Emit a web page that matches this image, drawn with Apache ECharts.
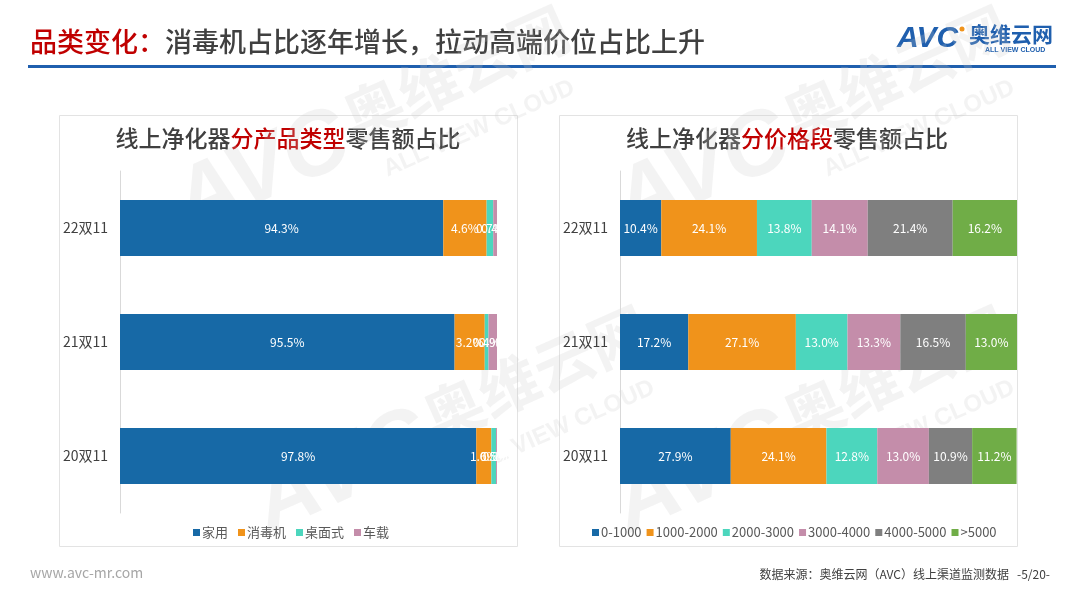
<!DOCTYPE html>
<html><head><meta charset="utf-8">
<script src="https://cdn.jsdelivr.net/npm/echarts@6/dist/echarts.min.js"></script>
<style>html,body{margin:0;padding:0;background:#fff}#c{width:1080px;height:608px}</style>
</head><body><div id="c"></div>
<script>
const categories = ['20双11', '21双11', '22双11'];
const typeNames = ['家用', '消毒机', '桌面式', '车载'];
const typeHome = [97.8, 95.5, 94.3];
const typeDisinfect = [1.6, 3.2, 4.6];
const typeDesk = [0.5, 0.4, 0.7];
const typeCar = [0.1, 0.9, 0.4];
const priceNames = ['0-1000', '1000-2000', '2000-3000', '3000-4000', '4000-5000', '>5000'];
const p0_1000 = [27.9, 17.2, 10.4];
const p1000_2000 = [24.1, 27.1, 24.1];
const p2000_3000 = [12.8, 13.0, 13.8];
const p3000_4000 = [13.0, 13.3, 14.1];
const p4000_5000 = [10.9, 16.5, 21.4];
const p5000 = [11.2, 13.0, 16.2];

const colors = ['#1769a6', '#f0931b', '#4cd6bd', '#c48daa', '#7f7f7f', '#70ad47'];
const font = '"Noto Sans CJK SC", "Microsoft YaHei", sans-serif';

function mk(name, data, xi, color) {
  return {
    name, type: 'bar', stack: 's' + xi, xAxisIndex: xi, yAxisIndex: xi,
    data, barWidth: 56, itemStyle: { color },
    label: { show: true, position: 'inside', color: '#fff', fontSize: 12, fontFamily: font,
      formatter: p => p.value.toFixed(1) + '%' },
    emphasis: { disabled: true }
  };
}

const chart = echarts.init(document.getElementById('c'), null, { renderer: 'canvas' });
const wmFill = 'rgba(200,200,200,0.22)';
const wm = (x, y) => ({
  type: 'group', x, y, rotation: Math.PI / 7.5, silent: true, z: 100,
  children: [
    { type: 'text', x: 0, y: 0, style: { text: 'AVC', font: 'italic bold 90px Arial', fill: wmFill } },
    { type: 'text', x: 190, y: 2, style: { text: '奥维云网', font: 'bold 60px "Noto Sans CJK SC"', fill: wmFill } },
    { type: 'text', x: 205, y: 80, style: { text: 'ALL VIEW CLOUD', font: 'bold 24px Arial', fill: wmFill } }
  ]
});
chart.setOption({
  animation: false,
  color: colors,
  graphic: [
    { type: 'rect', shape: { x: 59.5, y: 115.5, width: 458, height: 431 }, style: { fill: 'none', stroke: '#e3e3e3', lineWidth: 1 }, z: -1 },
    { type: 'rect', shape: { x: 559.5, y: 115.5, width: 458, height: 431 }, style: { fill: 'none', stroke: '#e3e3e3', lineWidth: 1 }, z: -1 },
    { type: 'text', x: 30, y: 28, style: { text: '品类变化：', font: '500 27px ' + font, fill: '#c00000' } },
    { type: 'text', x: 165, y: 28, style: { text: '消毒机占比逐年增长，拉动高端价位占比上升', font: '500 27px ' + font, fill: '#404040' } },
    { type: 'rect', shape: { x: 28, y: 65, width: 1028, height: 3 }, style: { fill: '#1f5fae' } },
    { type: 'text', x: 897, y: 24, style: { text: 'AVC', font: 'italic bold 30px Arial', fill: '#1f5fae' } },
    { type: 'circle', shape: { cx: 962, cy: 29, r: 2.5 }, style: { fill: '#f0931b' } },
    { type: 'text', x: 969, y: 24, style: { text: '奥维云网', font: 'bold 21px ' + font, fill: '#1f5fae' } },
    { type: 'text', x: 985, y: 47, style: { text: 'ALL VIEW CLOUD', font: 'bold 7px Arial', fill: '#1f5fae' } },
    { type: 'text', x: 288, y: 138, style: { text: '{g|线上净化器}{r|分产品类型}{g|零售额占比}', rich: { g: { font: '500 23px ' + font, fill: '#404040' }, r: { font: '500 23px ' + font, fill: '#c00000' } }, align: 'center', verticalAlign: 'middle' } },
    { type: 'text', x: 787, y: 138, style: { text: '{g|线上净化器}{r|分价格段}{g|零售额占比}', rich: { g: { font: '500 23px ' + font, fill: '#404040' }, r: { font: '500 23px ' + font, fill: '#c00000' } }, align: 'center', verticalAlign: 'middle' } },
    { type: 'text', x: 30, y: 566, style: { text: 'www.avc-mr.com', font: '14px ' + font, fill: '#a6a6a6' } },
    { type: 'text', x: 1050, y: 568, style: { text: '数据来源：奥维云网（AVC）线上渠道监测数据   -5/20-', font: '12px ' + font, fill: '#404040', align: 'right' } },
    wm(160, 170), wm(600, 170), wm(240, 470), wm(600, 470)
  ],
  legend: [
    { data: typeNames, left: 188, top: 521, itemWidth: 7, itemHeight: 7, itemGap: 10, icon: 'rect',
      textStyle: { fontSize: 13, color: '#595959', fontFamily: font, padding: [0, 0, 0, -3] } },
    { data: priceNames, left: 587, top: 521, itemWidth: 7, itemHeight: 7, itemGap: 5, icon: 'rect',
      textStyle: { fontSize: 13, color: '#595959', fontFamily: font, padding: [0, 0, 0, -3] } }
  ],
  grid: [
    { left: 120, width: 377, top: 171, height: 342 },
    { left: 620, width: 397, top: 171, height: 342 }
  ],
  xAxis: [
    { gridIndex: 0, type: 'value', min: 60, max: 100, show: false },
    { gridIndex: 1, type: 'value', min: 0, max: 100, show: false }
  ],
  yAxis: [0, 1].map(i => ({
    gridIndex: i, type: 'category', data: categories,
    axisLine: { show: true, lineStyle: { color: '#d9d9d9' } }, axisTick: { show: false },
    axisLabel: { fontSize: 14, color: '#404040', fontFamily: font, margin: 12 }
  })),
  series: [
    mk('家用', typeHome, 0, colors[0]),
    mk('消毒机', typeDisinfect, 0, colors[1]),
    mk('桌面式', typeDesk, 0, colors[2]),
    mk('车载', typeCar, 0, colors[3]),
    mk('0-1000', p0_1000, 1, colors[0]),
    mk('1000-2000', p1000_2000, 1, colors[1]),
    mk('2000-3000', p2000_3000, 1, colors[2]),
    mk('3000-4000', p3000_4000, 1, colors[3]),
    mk('4000-5000', p4000_5000, 1, colors[4]),
    mk('>5000', p5000, 1, colors[5])
  ]
});
</script></body></html>
